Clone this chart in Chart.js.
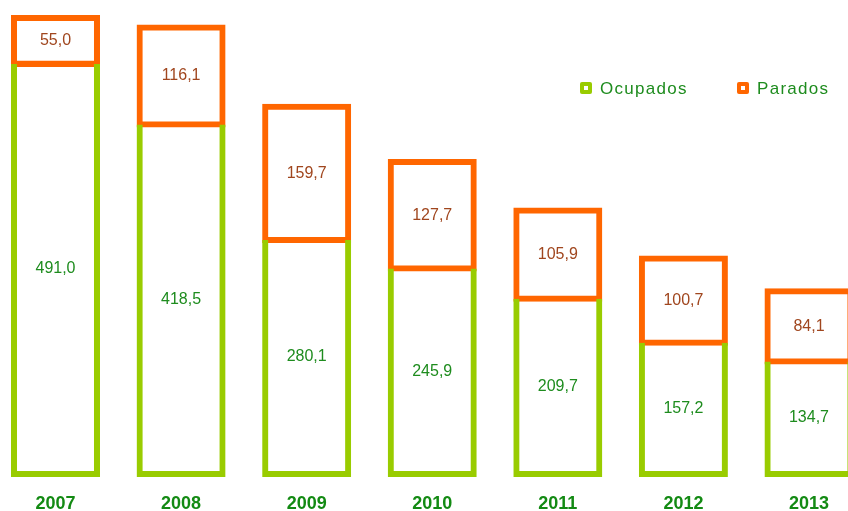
<!DOCTYPE html>
<html>
<head>
<meta charset="utf-8">
<script src="https://cdn.jsdelivr.net/npm/chart.js@4.4.1/dist/chart.umd.min.js"></script>
<style>
  html, body { margin: 0; padding: 0; background: #ffffff; }
  #wrap { width: 848px; height: 511px; position: relative; }
</style>
</head>
<body>
<div id="wrap"><canvas id="c" width="848" height="511"></canvas></div>
<script>
const categories = ['2007', '2008', '2009', '2010', '2011', '2012', '2013'];
const ocupados = [491.0, 418.5, 280.1, 245.9, 209.7, 157.2, 134.7];
const parados = [55.0, 116.1, 159.7, 127.7, 105.9, 100.7, 84.1];
const seriesNames = ['Ocupados', 'Parados'];

const GREEN = '#99cc00';
const ORANGE = '#ff6600';
const GREEN_TEXT = '#1e8c1e';
const BROWN_TEXT = '#a0461e';

const fmt = v => v.toFixed(1).replace('.', ',');

const valueLabels = {
  id: 'valueLabels',
  afterDatasetsDraw(chart) {
    const ctx = chart.ctx;
    ctx.save();
    ctx.font = '16px "Liberation Sans", Arial, sans-serif';
    ctx.textAlign = 'center';
    ctx.textBaseline = 'middle';
    chart.data.datasets.forEach((ds, di) => {
      const meta = chart.getDatasetMeta(di);
      ctx.fillStyle = di === 0 ? GREEN_TEXT : BROWN_TEXT;
      meta.data.forEach((el, i) => {
        const p = el.getCenterPoint();
        ctx.fillText(fmt(ds.data[i]), p.x, p.y);
      });
    });
    ctx.restore();
  }
};

const customLegend = {
  id: 'customLegend',
  afterDraw(chart) {
    const ctx = chart.ctx;
    const items = [
      { x: 580, color: GREEN },
      { x: 737, color: ORANGE }
    ];
    const y = 88;
    ctx.save();
    ctx.font = '17px "Liberation Sans", Arial, sans-serif';
    ctx.textBaseline = 'middle';
    ctx.textAlign = 'left';
    try { ctx.letterSpacing = '1.3px'; } catch (e) {}
    chart.data.datasets.forEach((ds, di) => {
      const it = items[di];
      ctx.fillStyle = it.color;
      ctx.beginPath();
      if (ctx.roundRect) ctx.roundRect(it.x, y - 6, 12, 12, 2); else ctx.rect(it.x, y - 6, 12, 12);
      ctx.fill();
      ctx.fillStyle = '#ffffff';
      ctx.fillRect(it.x + 4, y - 2, 4, 4);
      ctx.fillStyle = GREEN_TEXT;
      ctx.fillText(ds.label, it.x + 20, y + 1);
    });
    ctx.restore();
  }
};

new Chart(document.getElementById('c'), {
  type: 'bar',
  data: {
    labels: categories,
    datasets: [
      {
        label: seriesNames[0],
        data: ocupados,
        backgroundColor: 'rgba(0,0,0,0)',
        borderColor: GREEN,
        borderWidth: 0.01,
        inflateAmount: 3,
        borderSkipped: 'top',
        barThickness: 83,
        clip: false
      },
      {
        label: seriesNames[1],
        data: parados,
        backgroundColor: 'rgba(0,0,0,0)',
        borderColor: ORANGE,
        borderWidth: 0.01,
        inflateAmount: 3,
        borderSkipped: false,
        barThickness: 83,
        clip: false
      }
    ]
  },
  options: {
    responsive: false,
    animation: false,
    events: [],
    layout: { padding: { left: 55.5, right: 36.5, top: 14.6, bottom: 0 } },
    plugins: {
      legend: { display: false },
      tooltip: { enabled: false },
      title: { display: false }
    },
    scales: {
      x: {
        type: 'category',
        stacked: true,
        offset: false,
        grid: { display: false, drawTicks: false },
        border: { display: false },
        ticks: {
          color: '#138a13',
          padding: 19,
          maxRotation: 0,
          autoSkip: false,
          font: { family: '"Liberation Sans Narrow", "Arial Narrow", "Liberation Sans", Arial, sans-serif', size: 18, weight: 'bold' }
        },
        afterFit(scale) { scale.height = 37; }
      },
      y: {
        stacked: true,
        display: false,
        min: 0,
        max: 550
      }
    }
  },
  plugins: [valueLabels, customLegend]
});
</script>
</body>
</html>
